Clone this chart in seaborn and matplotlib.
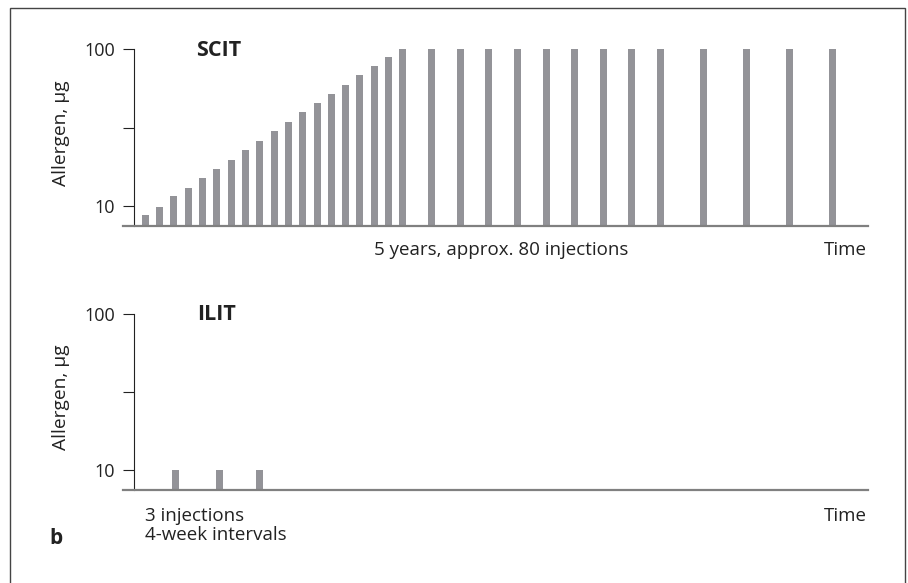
import matplotlib
matplotlib.use('Agg')
import matplotlib.pyplot as plt
import matplotlib.patches as patches
import pandas as pd
import seaborn as sns

# SCIT schedule: weekly up-dosing, then maintenance (x in weeks)
scit_weeks = list(range(19)) + [20, 22, 24, 26, 28, 30, 32, 34, 36, 39, 42, 45, 48]
scit_dose = [8.8, 9.9, 11.5, 13.0, 15.1, 17.3, 19.7, 22.8, 26.1, 30.2, 34.4, 39.9,
             45.5, 51.9, 59.3, 68.6, 78.3, 89.3, 100] + [100] * 13

# ILIT: 3 injections
ilit_weeks = [2.1, 5.2, 8.0]
ilit_dose = [10, 10, 10]

y_ticks = [10, 31.6, 100]
y_ticklabels = ['10', '', '100']

sns.set_style('white')
plt.rcParams['font.family'] = ['Open Sans', 'DejaVu Sans']

bar_color = '#939398'
axis_gray = '#808080'
text_color = '#222222'

fig = plt.figure(figsize=(9.08, 5.83), dpi=100)
W, H = 908, 583


def px_ax(left, top, right, bottom):
    return [left / W, 1 - bottom / H, (right - left) / W, (bottom - top) / H]


ax1 = fig.add_axes(px_ax(123, 49, 868, 226))
ax2 = fig.add_axes(px_ax(123, 314, 868, 490))

df1 = pd.DataFrame({'week': scit_weeks, 'dose': scit_dose})
df2 = pd.DataFrame({'week': ilit_weeks, 'dose': ilit_dose})

sns.barplot(data=df1, x='week', y='dose', native_scale=True, width=0.49,
            color=bar_color, saturation=1, errorbar=None, linewidth=0, ax=ax1)
sns.barplot(data=df2, x='week', y='dose', native_scale=True, width=0.167,
            color=bar_color, saturation=1, errorbar=None, linewidth=0, ax=ax2)

for ax in (ax1, ax2):
    ax.set_yscale('log')
    ax.set_ylim(7.45, 100)
    ax.set_xlim(-1.56, 50.5)
    ax.set_yticks(y_ticks)
    ax.set_yticklabels(y_ticklabels)
    ax.yaxis.set_minor_locator(matplotlib.ticker.NullLocator())
    ax.set_xticks([])
    ax.set_xlabel('')
    ax.tick_params(axis='y', left=True, length=8, width=0.8, color='#222222',
                   pad=5.5, labelsize=13, labelcolor=text_color)
    ax.spines['top'].set_visible(False)
    ax.spines['right'].set_visible(False)
    ax.spines['left'].set_position(('data', -0.79))
    ax.spines['left'].set_color('#222222')
    ax.spines['left'].set_linewidth(0.8)
    ax.spines['bottom'].set_color(axis_gray)
    ax.spines['bottom'].set_linewidth(1.6)
    ax.set_ylabel('Allergen, µg', fontsize=13.8, color=text_color)
    ax.yaxis.set_label_coords(-0.071, 0.526)
    ax.patch.set_alpha(0)


def ftext(x, y, s, **kw):
    fig.text(x / W, 1 - y / H, s, color=text_color, **kw)


ftext(196, 50, 'SCIT', fontsize=15.5, fontweight='bold', va='center', ha='left')
ftext(197, 315, 'ILIT', fontsize=15.5, fontweight='bold', va='center', ha='left')
ftext(374, 250, '5 years, approx. 80 injections', fontsize=13.5, va='center', ha='left')
ftext(867, 250, 'Time', fontsize=13.5, va='center', ha='right')
ftext(145, 516, '3 injections', fontsize=13.5, va='center', ha='left')
ftext(145, 535, '4-week intervals', fontsize=13.5, va='center', ha='left')
ftext(867, 516, 'Time', fontsize=13.5, va='center', ha='right')
ftext(49, 539, 'b', fontsize=15, fontweight='bold', va='center', ha='left')

# outer frame
frame = patches.Rectangle((10 / W, -0.05), (905 - 10) / W, 1 - 8 / H + 0.05,
                          transform=fig.transFigure, fill=False,
                          edgecolor='#444444', linewidth=1.0, clip_on=False)
fig.patches.append(frame)

fig.savefig('out.png', dpi=100)
